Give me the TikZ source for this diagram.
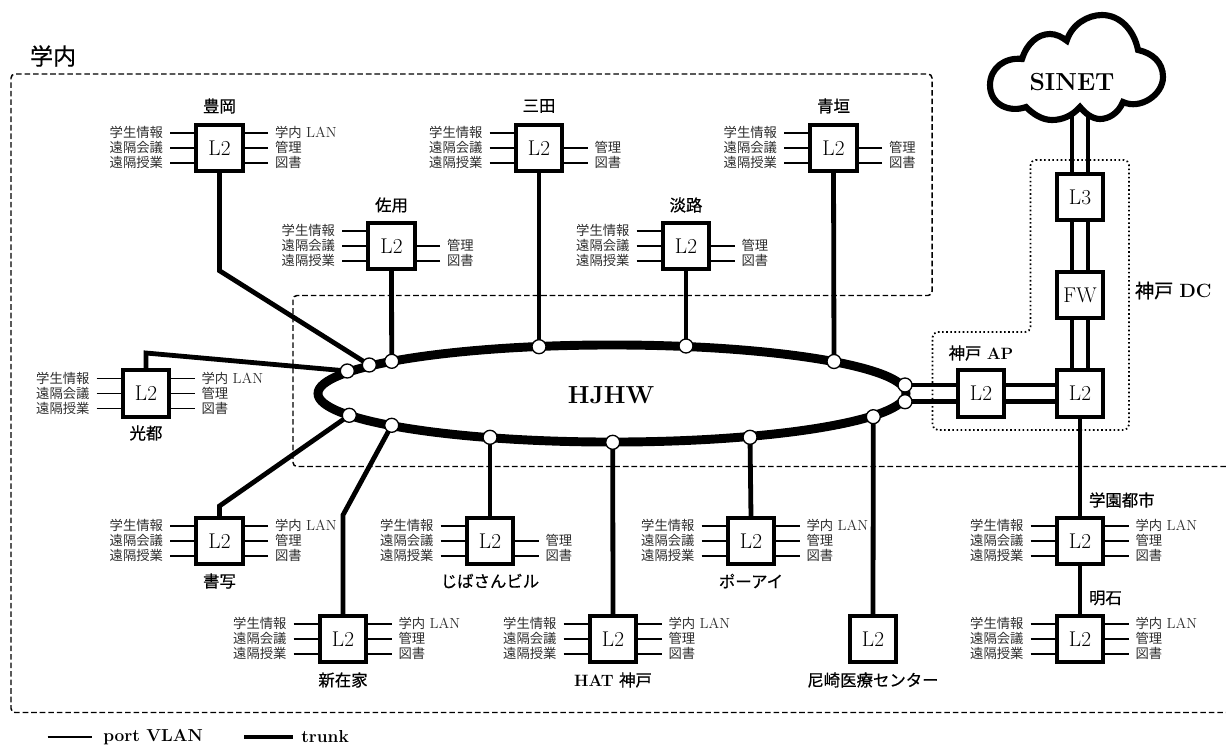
\documentclass[tikz,border=0pt]{standalone}
\usepackage{fontspec}
\usetikzlibrary{shapes.geometric,calc}
\newfontfamily\jpfont{Noto Sans CJK JP}
\newfontfamily\jpbold[FakeBold=0.5]{Noto Sans CJK JP}
\pgfdeclarelayer{background}
\pgfsetlayers{background,main}
\tikzset{
  swbox/.style={draw=black,line width=3pt,fill=white,minimum width=35.2pt,minimum height=35.2pt,inner sep=0pt,outer sep=0pt,font=\fontsize{16}{16}\selectfont},
  hub/.style={circle,draw=black,line width=1pt,fill=white,minimum size=10.5pt,inner sep=0pt,outer sep=0pt},
  lbl/.style={inner xsep=5.25pt,inner ysep=0pt,outer sep=0pt,text height=8pt,text depth=1.2pt,font=\fontsize{10}{10}\selectfont\jpfont,text=black!82},
  stname/.style={inner sep=0pt,outer sep=0pt,font=\fontsize{12.3}{12.3}\selectfont\jpbold},
  portline/.style={line width=1.05pt,draw=black},
  trunk/.style={line width=3.6pt,draw=black,line join=miter},
  region/.style={line width=1.1pt,draw=black,dash pattern=on 4.2pt off 2.2pt,rounded corners=3pt},
  dcregion/.style={line width=1.3pt,draw=black,dash pattern=on 1.2pt off 1.9pt,rounded corners=4pt},
}
\newcommand{\lm}[1]{{\fontsize{11}{11}\selectfont\rmfamily #1}}
\newcommand{\bx}[1]{{\rmfamily\bfseries #1}}
% name, x, y, 1 = has the LAN port, 2 = no LAN port
\newcommand{\switch}[4]{%
  \node[swbox] (#1) at (#2,#3) {L2};
  \foreach \i/\t/\dy in {a/学生情報/-15,b/遠隔会議/0,c/遠隔授業/15}{
    \node[lbl,anchor=east] (#1\i) at (#2-49.5,#3+\dy) {\t};
    \begin{pgfonlayer}{background}
      \draw[portline] (#1\i.east) -- (#1\i.east -| #1.west);
    \end{pgfonlayer}
  }
  \foreach \i/\t/\dy in {e/管理/0,f/図書/15}{
    \node[lbl,anchor=west] (#1\i) at (#2+48.5,#3+\dy) {\t};
    \begin{pgfonlayer}{background}
      \draw[portline] (#1\i.west) -- (#1\i.west -| #1.east);
    \end{pgfonlayer}
  }
  \ifnum#4=1
    \node[lbl,anchor=west] (#1d) at (#2+48.5,#3-15) {学内\hspace{3.3pt}\lm{LAN}};
    \begin{pgfonlayer}{background}
      \draw[portline] (#1d.west) -- (#1d.west -| #1.east);
    \end{pgfonlayer}
  \fi
}
\begin{document}
\begin{tikzpicture}[x=0.75pt,y=-0.75pt]
\useasboundingbox (0,0) rectangle (1226,746);
\clip (0,0) rectangle (1226,746);
% regions
\begin{pgfonlayer}{background}
  \draw[region] (1240,712.5) -- (11,712.5) -- (11,74) -- (932,74) -- (932,295.5) -- (293,295.5) -- (293,466.5) -- (1240,466.5);
  \draw[dcregion] (1030.5,160) -- (1129,160) -- (1129,430) -- (932.5,430) -- (932.5,332) -- (1030.5,332) -- cycle;
\end{pgfonlayer}
% ring
\node[ellipse,draw=black,line width=6.7pt,minimum width=441pt,minimum height=72.8pt,inner sep=0pt,outer sep=0pt] (hjhw) at (612,393.5) {};
\node[inner sep=0pt,font=\fontsize{18.5}{18.5}\selectfont\rmfamily\bfseries] (hjhwtext) at (611,395.5) {HJHW};
% hubs
\node[hub] (h1) at (347.3,371) {};
\node[hub] (h2) at (369.3,365) {};
\node[hub] (h3) at (391.7,361.3) {};
\node[hub] (h4) at (539,346.7) {};
\node[hub] (h5) at (686,346) {};
\node[hub] (h6) at (834,361.5) {};
\node[hub] (h7) at (905,385) {};
\node[hub] (h8) at (905,401.7) {};
\node[hub] (h9) at (873.3,416.7) {};
\node[hub] (h10) at (750,437.3) {};
\node[hub] (h11) at (612.7,442.3) {};
\node[hub] (h12) at (490,437.3) {};
\node[hub] (h13) at (391.7,425.3) {};
\node[hub] (h14) at (349.3,415.3) {};
% switches
\switch{toyooka}{219.5}{148}{1}
\switch{sayo}{391.5}{246}{2}
\switch{sanda}{539}{148}{2}
\switch{awaji}{686}{246}{2}
\switch{aogaki}{833.5}{148}{2}
\switch{mitsu}{146}{393.5}{1}
\switch{shosha}{219.5}{541}{1}
\switch{shinzaike}{343}{639}{1}
\switch{jiba}{490}{541}{2}
\switch{hat}{613}{639}{1}
\switch{portisland}{751}{541}{1}
\switch{gakuen}{1080}{541}{1}
\switch{akashi}{1080}{639}{1}
\node[swbox] (ama) at (873,639) {L2};
\node[swbox] (ap) at (981,393.5) {L2};
\node[swbox] (dc) at (1080,393.5) {L2};
\node[swbox] (fw) at (1080,295) {FW};
\node[swbox] (l3) at (1080,197) {L3};
% station names
\node[stname] (ntoyooka) at (219.5,106) {豊岡};
\node[stname] (nsayo) at (391.5,205) {佐用};
\node[stname] (nsanda) at (539,106) {三田};
\node[stname] (nawaji) at (686,205) {淡路};
\node[stname] (naogaki) at (833.5,106) {青垣};
\node[stname] (nmitsu) at (146,433) {光都};
\node[stname] (nshosha) at (219.5,581) {書写};
\node[stname] (nshinzaike) at (343,680) {新在家};
\node[stname] (njiba) at (490,581) {じばさんビル};
\node[stname] (nport) at (751,581) {ポーアイ};
\node[stname] (nhat) at (613,680) {\bx{HAT}\hspace{4pt}神戸};
\node[stname] (nama) at (873,680) {尼崎医療センター};
\node[stname,anchor=west] (ngakuen) at (1089,500) {学園都市};
\node[stname,anchor=west] (nakashi) at (1089,598) {明石};
\node[stname] (nap) at (981,353) {神戸\hspace{4pt}\bx{AP}};
\node[stname,anchor=west,font=\fontsize{14.4}{14.4}\selectfont\jpbold] (ndc) at (1135,290.5) {神戸\hspace{4.5pt}\bx{DC}};
\node[stname,anchor=west,font=\fontsize{17.3}{17.3}\selectfont\jpbold] (ngakunai) at (30,56) {学内};
% cloud
\filldraw[draw=black,fill=white,line width=4.6pt,line join=miter]
  (1066.7,40.7)
  .. controls (1072,24) and (1088,15) .. (1102,15)
  .. controls (1120,15) and (1134,30) .. (1138,50)
  .. controls (1152,53) and (1163,62) .. (1163,77)
  .. controls (1163,95) and (1140,110) .. (1123,102)
  .. controls (1118,114) and (1108,119) .. (1100,119)
  .. controls (1092,119) and (1085,113) .. (1080,107)
  .. controls (1072,116) and (1062,120) .. (1052,120)
  .. controls (1042,120) and (1033,114) .. (1026,107)
  .. controls (1010,113) and (990,105) .. (990,85)
  .. controls (990,68) and (1005,57) .. (1022,59)
  .. controls (1027,43) and (1038,34) .. (1050,34)
  .. controls (1056,34) and (1062,37) .. (1066.7,40.7)
  -- cycle;
\node[inner sep=0pt,font=\fontsize{18.5}{18.5}\selectfont\rmfamily\bfseries] (sinet) at (1072,82) {SINET};
\coordinate (cloudbase) at (1080,90);
% connectors
\begin{pgfonlayer}{background}
  \draw[trunk] (toyooka.south) -- (219.5,270.7) -- (h2.center);
  \draw[trunk] (sayo.south) -- (h3.center);
  \draw[trunk] (sanda.south) -- (h4.center);
  \draw[trunk] (awaji.south) -- (h5.center);
  \draw[trunk] (aogaki.south) -- (h6.center);
  \draw[trunk] (mitsu.north) -- (146,353) -- (h1.center);
  \draw[trunk] (shosha.north) -- (219.5,506) -- (h14.center);
  \draw[trunk] (shinzaike.north) -- (343,515) -- (h13.center);
  \draw[trunk] (jiba.north) -- (h12.center);
  \draw[trunk] (hat.north) -- (h11.center);
  \draw[trunk] (portisland.north) -- (h10.center);
  \draw[trunk] (ama.north) -- (h9.center);
  \draw[trunk] (h7.center) -- (h7.center -| ap.west);
  \draw[trunk] (h8.center) -- (h8.center -| ap.west);
  \draw[trunk] (h7.center -| ap.east) -- (h7.center -| dc.west);
  \draw[trunk] (h8.center -| ap.east) -- (h8.center -| dc.west);
  \draw[trunk] (dc.south) -- (gakuen.north);
  \draw[trunk] (gakuen.south) -- (akashi.north);
  \foreach \s in {-6,6}{
    \draw[trunk] ([xshift=\s pt]cloudbase) -- ([xshift=\s pt]l3.north);
    \draw[trunk] ([xshift=\s pt]l3.south) -- ([xshift=\s pt]fw.north);
    \draw[trunk] ([xshift=\s pt]fw.south) -- ([xshift=\s pt]dc.north);
  }
\end{pgfonlayer}
% legend
\coordinate (lega) at (47.7,737);
\coordinate (legaend) at (91.7,737);
\node[inner sep=0pt,anchor=west,font=\fontsize{13}{13}\selectfont\rmfamily\bfseries] (legport) at (103,737) {port VLAN};
\draw[portline] (lega) -- (legaend);
\coordinate (legb) at (244,737);
\coordinate (legbend) at (293,737);
\node[inner sep=0pt,anchor=west,font=\fontsize{13}{13}\selectfont\rmfamily\bfseries] (legtrunk) at (301,737) {trunk};
\draw[trunk] (legb) -- (legbend);
\end{tikzpicture}
\end{document}
